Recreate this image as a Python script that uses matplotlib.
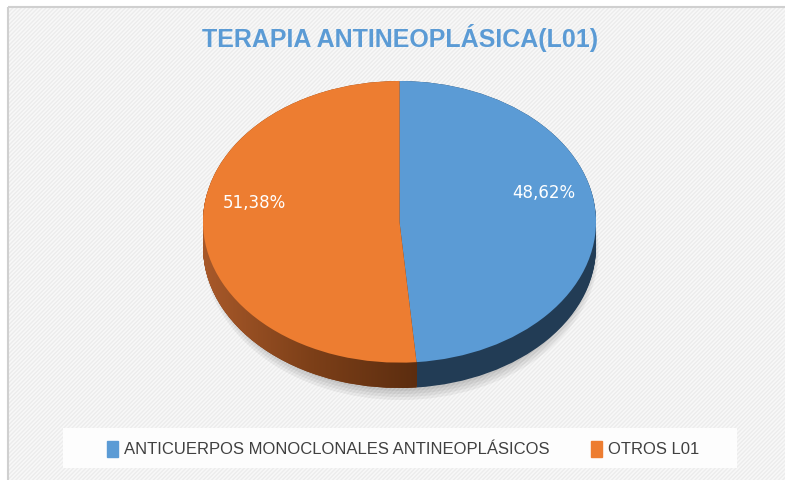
import matplotlib
matplotlib.use('Agg')
import matplotlib.pyplot as plt
import numpy as np
from matplotlib.patches import Rectangle, PathPatch, Ellipse
from matplotlib.path import Path
from matplotlib.colors import LinearSegmentedColormap

# Datos del gráfico
title = 'TERAPIA ANTINEOPLÁSICA(L01)'
labels = ['ANTICUERPOS MONOCLONALES ANTINEOPLÁSICOS', 'OTROS L01']
shares = [48.62, 51.38]
top_colors = ['#5b9bd5', '#ed7d31']
side_colors = ['#223c55', '#7a3d17']
# posiciones de las etiquetas (coordenadas del pastel)
label_xy = [(0.736, 0.206), (-0.741, 0.135)]

W, H = 785, 480
fig = plt.figure(figsize=(W / 100, H / 100), dpi=100)
fig.patch.set_facecolor('white')

# Fondo con rayas diagonales y marco
bg = fig.add_axes([0, 0, 1, 1])
bg.set_xlim(0, W)
bg.set_ylim(H, 0)
bg.axis('off')
bg.add_patch(Rectangle((8, 7), W, H, facecolor='#f8f8f8', edgecolor='#ececec',
                       linewidth=0, hatch='////////'))
bg.add_patch(Rectangle((8, 7), W, H, fill=False, edgecolor='#d0d0d0', linewidth=1.5))
bg.add_patch(Rectangle((63, 428), 674, 40, facecolor='#fdfdfd', linewidth=0))
# sombra suave bajo el pastel
for i in range(4):
    bg.add_patch(Ellipse((401, 246 + 1.5 * i), 386 + 3 * i, 290 + 3 * i,
                         facecolor='#000000', alpha=0.05, linewidth=0))

# Pastel 3D (elipse con profundidad)
depth = 0.18
ax = fig.add_axes([203 / W, (H - 388) / H, 393 / W, 307 / H])
ax.axis('off')

orange_side = []
for k in np.linspace(depth, 0.0, 30):
    w, _ = ax.pie(shares, colors=side_colors, startangle=90, counterclock=False,
                  center=(0, -k), radius=1, wedgeprops=dict(linewidth=0, zorder=1))
    orange_side.append(w[1])

# degradado en el lateral naranja
cmap = LinearSegmentedColormap.from_list('side', ['#a8592a', '#7c3f18', '#5a2c0f'])
grad = np.linspace(0, 1, 256)[None, :]
im = ax.imshow(grad, extent=(-1.0, 0.12, -1 - depth, 0.2), aspect='auto', cmap=cmap,
               zorder=1.5)
clip = PathPatch(Path.make_compound_path(*[p.get_path() for p in orange_side]),
                 transform=ax.transData, facecolor='none', edgecolor='none')
im.set_clip_path(clip)

ax.pie(shares, colors=top_colors, startangle=90, counterclock=False,
       wedgeprops=dict(linewidth=0, zorder=2))

for (x, y), v in zip(label_xy, shares):
    ax.text(x, y, f'{v:.2f}%'.replace('.', ','), color='white', fontsize=12,
            ha='center', va='center', zorder=3)

ax.set_aspect('auto')
ax.set_xlim(-1, 1)
ax.set_ylim(-1 - depth, 1)

# Título
fig.text(400 / W, 1 - 38 / H, title, ha='center', va='center', fontsize=18,
         fontweight='bold', color='#5b9bd5', family=['Liberation Sans', 'DejaVu Sans'])

# Leyenda
handles = [Rectangle((0, 0), 1, 1, color=c) for c in top_colors]
fig.legend(handles, labels, loc='center', bbox_to_anchor=(403 / W, 1 - 449 / H),
           ncol=2, frameon=False, handlelength=0.65, handleheight=1.1,
           handletextpad=0.35, columnspacing=2.5, labelcolor='#404040',
           prop=dict(family=['Liberation Sans', 'DejaVu Sans'], size=12))

fig.savefig('out.png', dpi=100)
